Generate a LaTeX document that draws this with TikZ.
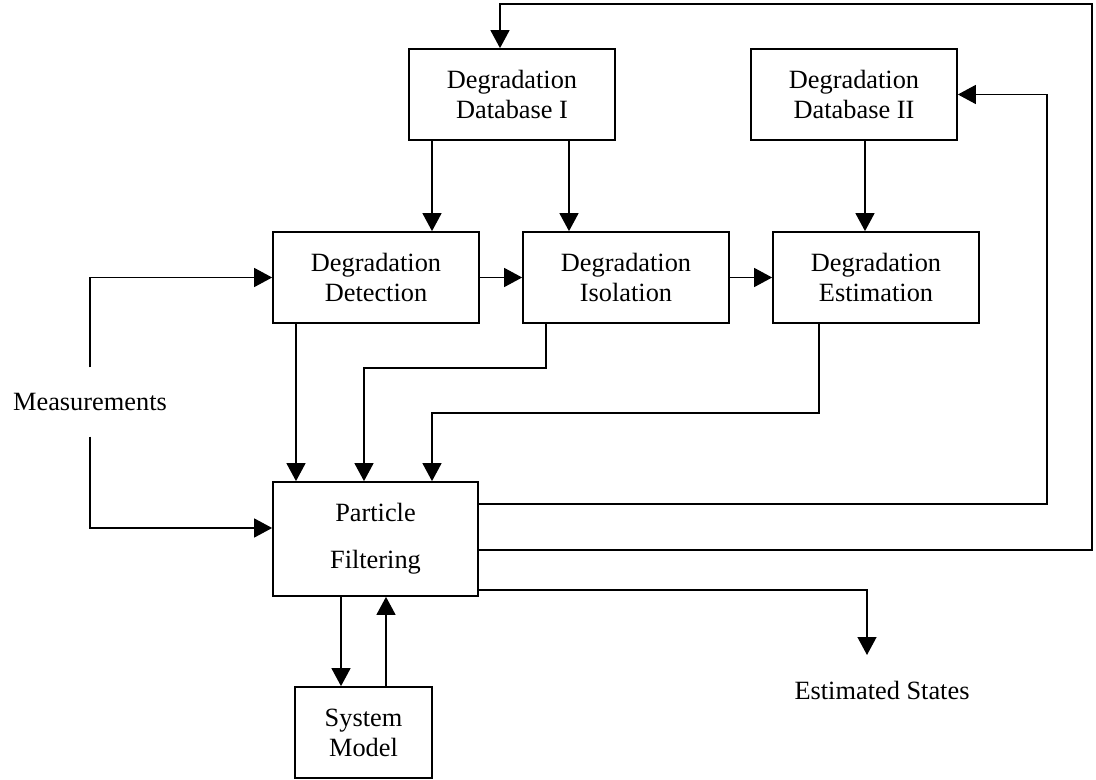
\documentclass[tikz,border=0pt]{standalone}
\usepackage{fontspec}
\setmainfont{Liberation Serif}
\usetikzlibrary{arrows.meta}
\begin{document}
\begin{tikzpicture}[x=0.02cm,y=-0.02cm,line width=0.8pt,>={Triangle[length=0.36cm,width=0.38cm]},
		box/.style={draw,line width=1pt,minimum width=4.12cm,minimum height=1.82cm,inner sep=0pt,align=center,font=\fontsize{15}{17}\selectfont},
		lbl/.style={inner sep=0pt,font=\fontsize{15}{17}\selectfont}]
		\useasboundingbox (0,0) rectangle (1096,780);
		\node[box] (db1) at (512,94.5) {Degradation\\Database I};
		\node[box] (db2) at (854,94.5) {Degradation\\Database II};
		\node[box] (det) at (376,277.5) {Degradation\\Detection};
		\node[box] (iso) at (626,277.5) {Degradation\\Isolation};
		\node[box] (est) at (876,277.5) {Degradation\\Estimation};
		\node[box,minimum width=4.1cm,minimum height=2.28cm] (pf) at (375.5,539) {Particle\\[9.7pt]Filtering};
		\node[box,minimum width=2.74cm] (sm) at (363.5,732.5) {System\\Model};
		\node[lbl,minimum height=1.36cm] (meas) at (90,402) {Measurements};
		\node[lbl] (states) at (882,690) {Estimated States};
		\coordinate (loopR) at (1092,4);
		\coordinate (dbR) at (1047,94.5);
		\coordinate (outS) at (867,655);
		\coordinate (isoB) at (364,368);
		\coordinate (estB) at (432,413);
		\draw[->] (db1.south -| 432,0)--(det.north -| 432,0);
		\draw[->] (db1.south -| 569,0)--(iso.north -| 569,0);
		\draw[->] (db2.south -| 865,0)--(est.north -| 865,0);
		\draw[->] (det)--(iso);
		\draw[->] (iso)--(est);
		\draw[->] (meas.north) |- (det.west);
		\draw[->] (meas.south) |- (pf.west |- 0,528);
		\draw[->] (det.south -| 296,0)--(pf.north -| 296,0);
		\draw[->] (iso.south -| 546,0) |- (isoB)--(pf.north -| isoB);
		\draw[->] (est.south -| 819,0) |- (estB)--(pf.north -| estB);
		\draw[->] (pf.east |- 0,504) -| (dbR)--(db2.east);
		\draw[->] (pf.east |- 0,550) -| (loopR) -| ([xshift=-0.24cm]db1.north);
		\draw[->] (pf.east |- 0,590) -| (outS);
		\draw[->] (pf.south -| 341,0)--(sm.north -| 341,0);
		\draw[->] (sm.north -| 386,0)--(pf.south -| 386,0);
	\end{tikzpicture}
\end{document}
